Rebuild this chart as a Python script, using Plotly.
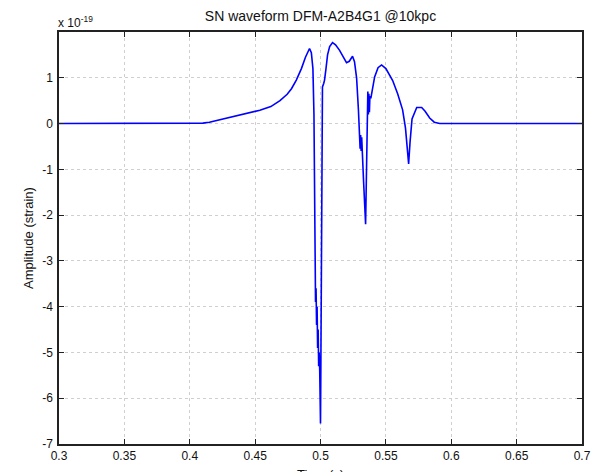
import plotly.graph_objects as go

# Time (s)
t = [0.30, 0.405, 0.41, 0.415, 0.4276, 0.44, 0.4536, 0.462, 0.469, 0.4745, 0.4778,
     0.4815, 0.4854, 0.4885, 0.4905, 0.4916, 0.4930, 0.4942, 0.4950, 0.4955, 0.4958,
     0.4962, 0.4966, 0.4970, 0.4974, 0.4978, 0.4982, 0.4986, 0.4990, 0.4994, 0.4998,
     0.5000, 0.5003, 0.5006, 0.5010, 0.5015, 0.5025, 0.5031, 0.5042, 0.5054, 0.5070,
     0.5092, 0.5115, 0.5146, 0.5175, 0.5199, 0.5220, 0.5245, 0.5260, 0.5276, 0.5290,
     0.5299, 0.5303, 0.5307, 0.5311, 0.5315, 0.5320, 0.5330, 0.5345, 0.5352, 0.5358,
     0.5362, 0.5366, 0.5370, 0.5374, 0.5378, 0.5385, 0.5400, 0.5414, 0.5440, 0.5467,
     0.5500, 0.5552, 0.5590, 0.5628, 0.5650, 0.5665, 0.5674, 0.5685, 0.5700, 0.5736,
     0.5774, 0.5800, 0.5835, 0.5870, 0.5912, 0.60, 0.70]

# Amplitude (strain), in units of 1e-19
h = [0.0, 0.0, 0.01, 0.03, 0.11, 0.19, 0.29, 0.37, 0.50, 0.64, 0.76,
     0.95, 1.20, 1.45, 1.60, 1.64, 1.55, 1.20, 0.20, -1.5, -3.5,
     -3.9, -3.6, -4.4, -4.0, -4.9, -4.5, -5.3, -5.0, -5.4, -6.0,
     -6.55, -5.2, -3.0, -0.5, 0.80, 0.88, 0.95, 1.20, 1.50, 1.68,
     1.77, 1.72, 1.60, 1.45, 1.33, 1.36, 1.47, 1.35, 1.00, 0.30,
     -0.30, -0.55, -0.25, -0.60, -0.30, -0.70, -1.30, -2.20, -1.20, 0.30,
     0.70, 0.20, 0.65, 0.25, 0.60, 0.55, 0.85, 1.02, 1.22, 1.28,
     1.20, 0.94, 0.65, 0.30, -0.10, -0.55, -0.88, -0.40, 0.10, 0.35,
     0.35, 0.27, 0.12, 0.03, 0.0, 0.0, 0.0]

x_ticks = [0.3, 0.35, 0.4, 0.45, 0.5, 0.55, 0.6, 0.65, 0.7]
x_tick_labels = ["0.3", "0.35", "0.4", "0.45", "0.5", "0.55", "0.6", "0.65", "0.7"]
y_ticks = [-7, -6, -5, -4, -3, -2, -1, 0, 1]
y_tick_labels = ["-7", "-6", "-5", "-4", "-3", "-2", "-1", "0", "1"]

title_text = "SN waveform DFM-A2B4G1 @10kpc"
x_title = "Time (s)"
y_title = "Amplitude (strain)"

FONT = "Liberation Sans, Arial, sans-serif"

L, R, T, B = 59, 17, 32, 28
PW = 599 - L - R
PH = 472 - T - B

fig = go.Figure()
fig.add_trace(go.Scatter(x=t, y=h, mode="lines",
                         line=dict(color="#0000ff", width=1.6),
                         hoverinfo="skip", showlegend=False))

axis_common = dict(
    showline=True, linecolor="#222222", linewidth=1.5, mirror="allticks",
    ticks="inside", ticklen=5, tickwidth=1, tickcolor="#222222",
    showgrid=True, gridcolor="#cfcfcf", griddash="dot", gridwidth=1,
    zeroline=False, automargin=False,
    tickfont=dict(family=FONT, size=12, color="#111111"),
)

fig.update_layout(
    width=599, height=472,
    margin=dict(l=L, r=R, t=T, b=B),
    paper_bgcolor="white", plot_bgcolor="white",
    font=dict(family=FONT, color="#111111"),
    title=dict(text=title_text, x=(L + PW / 2) / 599, xanchor="center",
               y=1 - 16 / 472, yanchor="middle",
               font=dict(family=FONT, size=14, color="#111111")),
    xaxis=dict(range=[0.3, 0.7], tickvals=x_ticks, ticktext=x_tick_labels, **axis_common),
    yaxis=dict(range=[-7, 2], tickvals=y_ticks, ticktext=y_tick_labels,
               ticklabelstandoff=2, **axis_common),
)

fig.add_annotation(text=x_title, xref="paper", yref="paper", x=0.5, y=-21 / PH,
                   xanchor="center", yanchor="top", showarrow=False,
                   font=dict(family=FONT, size=13, color="#111111"))
fig.add_annotation(text=y_title, xref="paper", yref="paper", x=-31 / PW, y=0.5,
                   xanchor="center", yanchor="middle", textangle=-90, showarrow=False,
                   font=dict(family=FONT, size=13, color="#111111"))
fig.add_annotation(text="x 10<sup>-19</sup>", xref="paper", yref="paper",
                   x=-3 / PW, y=1.0, xanchor="left", yanchor="bottom", showarrow=False,
                   font=dict(family=FONT, size=12, color="#111111"))

fig.write_html("out.html", config={"displayModeBar": False},
               post_script="document.body.style.margin='0';document.body.style.overflow='hidden';")
